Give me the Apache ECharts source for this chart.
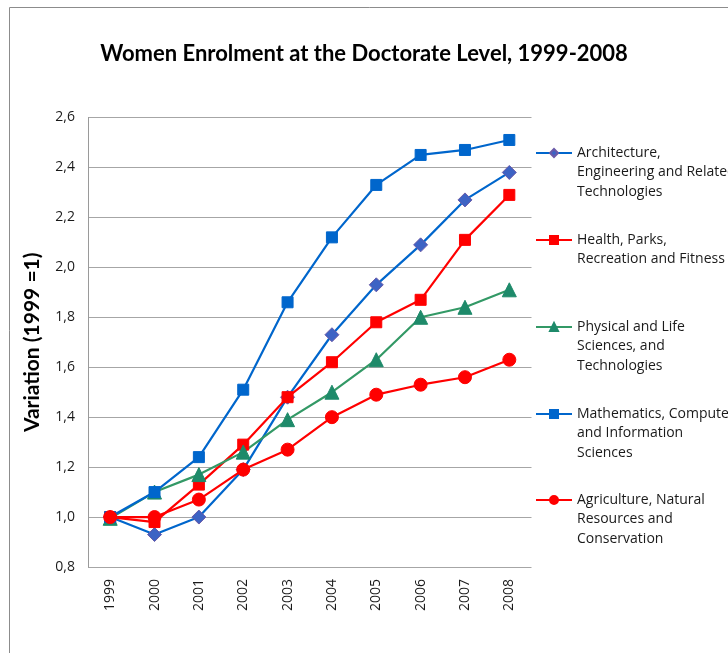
<!DOCTYPE html>
<html>
<head>
<meta charset="utf-8">
<style>
  html, body { margin: 0; padding: 0; background: #fff; }
  #main { width: 728px; height: 653px; }
</style>
<script src="https://cdn.jsdelivr.net/npm/echarts@6/dist/echarts.min.js"></script>
</head>
<body>
<div id="main"></div>
<script>
// data
var years = ['1999', '2000', '2001', '2002', '2003', '2004', '2005', '2006', '2007', '2008'];
var architecture = [1.00, 0.93, 1.00, 1.19, 1.48, 1.73, 1.93, 2.09, 2.27, 2.38];
var health = [1.00, 0.98, 1.13, 1.29, 1.48, 1.62, 1.78, 1.87, 2.11, 2.29];
var physical = [0.995, 1.10, 1.17, 1.26, 1.39, 1.50, 1.63, 1.80, 1.84, 1.91];
var mathematics = [1.00, 1.10, 1.24, 1.51, 1.86, 2.12, 2.33, 2.45, 2.47, 2.51];
var agriculture = [1.00, 1.00, 1.07, 1.19, 1.27, 1.40, 1.49, 1.53, 1.56, 1.63];

var seriesNames = [
  'Architecture,\nEngineering and Related\nTechnologies',
  'Health, Parks,\nRecreation and Fitness',
  'Physical and Life\nSciences, and\nTechnologies',
  'Mathematics, Computer\nand Information\nSciences',
  'Agriculture, Natural\nResources and\nConservation'
];

var chart = echarts.init(document.getElementById('main'));
var font = 'Lato, "Open Sans", sans-serif';
var legendFont = '"Open Sans", Lato, sans-serif';
var lh = 19.5;
var firstLine = [153, 240, 327, 414, 500]; // centre of each legend's first line

// one legend per entry; blank lines in front keep the icon on the first text line
var legends = seriesNames.map(function(name, i){
  var n = name.split('\n').length;
  return {
    data: [name],
    orient: 'vertical',
    left: 535,
    top: firstLine[i] - (n - 0.5) * lh,
    padding: 0,
    itemWidth: 36,
    itemHeight: 10,
    selectedMode: false,
    formatter: function(nm){
      return new Array(n).join('\n') + nm;
    },
    textStyle: {
      fontFamily: legendFont,
      fontSize: 14,
      color: '#1a1a1a',
      lineHeight: lh
    }
  };
});

function lineSeries(name, data, color, symbol, size, markerColor, borderColor){
  return {
    name: name,
    type: 'line',
    data: data,
    symbol: symbol,
    symbolSize: size,
    lineStyle: { color: color, width: 2.2 },
    itemStyle: { color: markerColor, borderColor: borderColor || markerColor, borderWidth: 1 },
    emphasis: { disabled: true }
  };
}

var option = {
  backgroundColor: '#fff',
  animation: false,
  title: {
    text: 'Women Enrolment at the Doctorate Level, 1999-2008',
    left: 'center',
    top: 38,
    textStyle: { fontFamily: font, fontSize: 22, fontWeight: 'bold', color: '#000' }
  },
  legend: legends,
  grid: { left: 88, right: 196.5, top: 117.5, bottom: 86 },
  xAxis: {
    type: 'category',
    data: years,
    boundaryGap: true,
    axisLine: { show: false },
    axisTick: { show: false },
    axisLabel: { rotate: 90, margin: 12, fontFamily: legendFont, fontSize: 14, color: '#1a1a1a' }
  },
  yAxis: {
    type: 'value',
    min: 0.8,
    max: 2.6,
    interval: 0.2,
    name: 'Variation (1999 =1)',
    nameLocation: 'middle',
    nameGap: 45,
    nameTextStyle: { fontFamily: font, fontSize: 21, fontWeight: 'bold', color: '#000' },
    axisLine: { show: true, lineStyle: { color: '#9a9a9a', width: 1 } },
    axisTick: { show: false },
    axisLabel: {
      margin: 13,
      fontFamily: legendFont,
      fontSize: 14,
      color: '#1a1a1a',
      formatter: function(v){ return v.toFixed(1).replace('.', ','); }
    },
    splitLine: { lineStyle: { color: '#a6a6a6', width: 1 } }
  },
  graphic: [{
    type: 'rect',
    shape: { x: 9.5, y: 7.5, width: 760, height: 700 },
    style: { fill: 'none', stroke: '#8c8c8c', lineWidth: 1 },
    silent: true
  }],
  series: [
    lineSeries(seriesNames[0], architecture, '#0066cc', 'diamond', 14, '#3d63c4', '#6a5aa8'),
    lineSeries(seriesNames[1], health, '#ff0000', 'rect', 11, '#ff0000'),
    lineSeries(seriesNames[2], physical, '#339966', 'triangle', 14, '#1e8a6a'),
    lineSeries(seriesNames[3], mathematics, '#0066cc', 'rect', 11, '#0066cc'),
    lineSeries(seriesNames[4], agriculture, '#ff0000', 'circle', 13, '#ff0000')
  ]
};

chart.setOption(option);
</script>
</body>
</html>
